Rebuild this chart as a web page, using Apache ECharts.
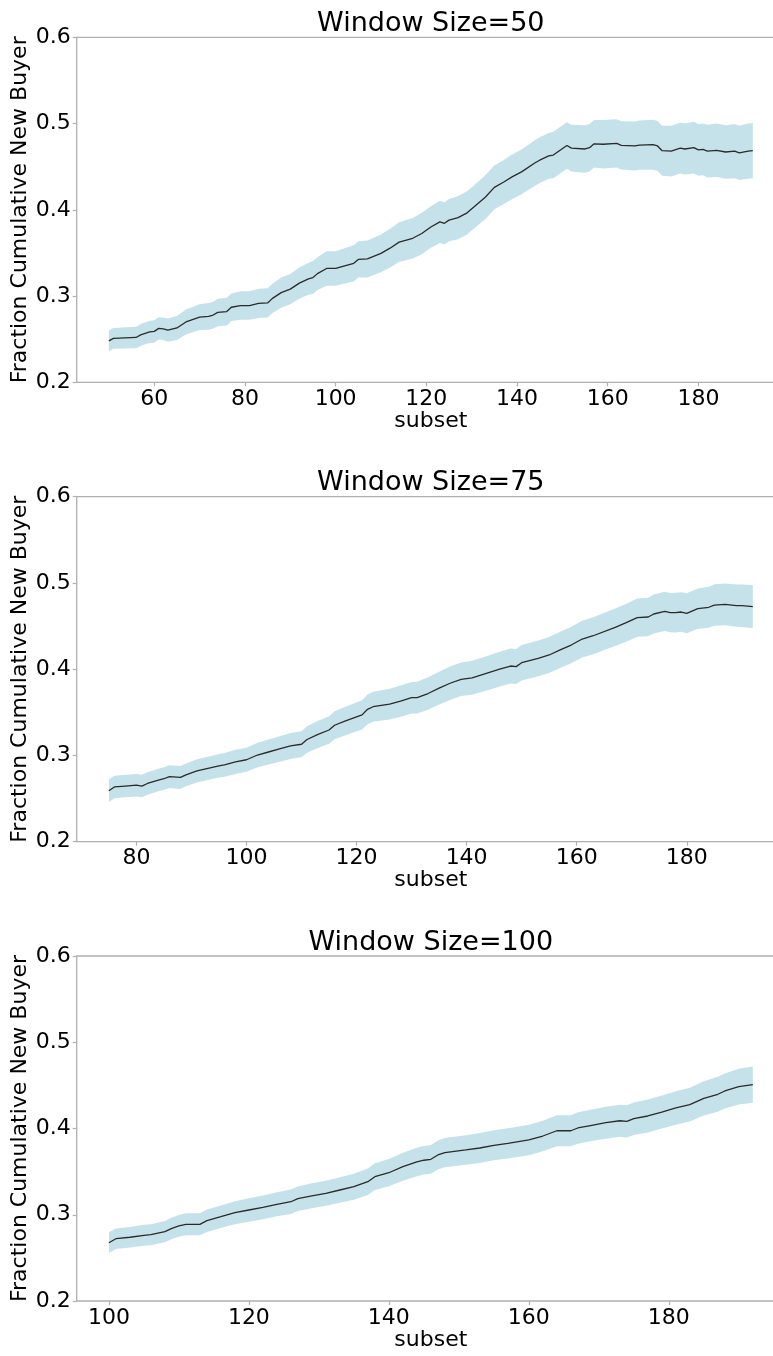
<!DOCTYPE html>
<html>
<head>
<meta charset="utf-8">
<script src="https://cdn.jsdelivr.net/npm/echarts@6/dist/echarts.min.js"></script>
<style>
  html, body { margin: 0; padding: 0; background: #fff; }
  #chart { width: 773px; height: 1356px; }
</style>
</head>
<body>
<div id="chart"></div>
<script>
// Window size 50
const subset50 = [50,51,56,57,59,60,61,62,63,65,67,70,72,73,74,76,77,79,81,83,85,86,88,90,92,94,95,96,98,100,102,104,105,107,110,112,114,117,119,121,123,124,125,127,129,131,133,135,137,139,141,144,145,147,148,151,152,155,156,157,159,162,163,166,167,170,171,172,174,176,177,179,180,181,182,184,186,188,189,191,192];
const mean50 = [0.248,0.251,0.252,0.255,0.2585,0.259,0.2625,0.262,0.2605,0.263,0.270,0.2755,0.2765,0.278,0.281,0.282,0.287,0.289,0.289,0.2915,0.292,0.297,0.304,0.308,0.315,0.320,0.3215,0.326,0.332,0.332,0.335,0.338,0.3425,0.343,0.3495,0.3555,0.3625,0.367,0.3725,0.380,0.386,0.3843,0.388,0.391,0.3965,0.4055,0.4145,0.426,0.432,0.4385,0.444,0.4545,0.4575,0.4625,0.4635,0.4745,0.4715,0.4705,0.472,0.4765,0.476,0.477,0.4748,0.474,0.475,0.4755,0.474,0.4685,0.468,0.4715,0.4705,0.472,0.4695,0.470,0.468,0.469,0.467,0.468,0.466,0.468,0.4685];
const ci50 = [0.012,0.012,0.0125,0.0125,0.013,0.013,0.013,0.013,0.0135,0.014,0.0145,0.015,0.0155,0.0155,0.016,0.016,0.016,0.0165,0.0165,0.017,0.017,0.017,0.0175,0.0175,0.018,0.0185,0.019,0.019,0.020,0.020,0.0205,0.021,0.021,0.0215,0.022,0.0225,0.023,0.0235,0.024,0.024,0.0245,0.0245,0.0245,0.025,0.025,0.025,0.0255,0.0255,0.0255,0.026,0.026,0.0265,0.0265,0.0265,0.027,0.027,0.027,0.0275,0.0275,0.0275,0.028,0.028,0.028,0.0285,0.0285,0.029,0.029,0.029,0.0295,0.0295,0.0295,0.030,0.030,0.030,0.0305,0.031,0.031,0.0315,0.0315,0.032,0.032];

// Window size 75
const subset75 = [75,76,78,80,81,82,84,85,86,88,89,91,93,95,96,98,100,102,104,106,108,110,111,113,115,116,118,121,122,123,126,128,130,131,133,135,137,139,141,144,146,148,149,150,153,155,157,159,161,163,167,169,171,173,174,176,177,178,179,180,182,184,185,187,189,190,192];
const mean75 = [0.259,0.2635,0.2645,0.2655,0.2645,0.2675,0.2715,0.273,0.2755,0.2745,0.2775,0.282,0.285,0.288,0.289,0.2925,0.295,0.3005,0.304,0.3075,0.311,0.313,0.3185,0.3245,0.3295,0.335,0.340,0.347,0.3535,0.3565,0.3595,0.363,0.367,0.367,0.3718,0.378,0.3837,0.3883,0.390,0.396,0.400,0.4037,0.403,0.4075,0.4126,0.4165,0.4223,0.428,0.435,0.4388,0.4486,0.4539,0.4597,0.4605,0.464,0.4671,0.4655,0.4655,0.4663,0.4648,0.4702,0.4718,0.4744,0.4752,0.4736,0.4736,0.4725];
const ci75 = [0.013,0.013,0.013,0.013,0.013,0.013,0.013,0.0132,0.0132,0.0133,0.0133,0.0135,0.0135,0.0137,0.0137,0.014,0.014,0.0143,0.0145,0.0148,0.015,0.0152,0.0155,0.0158,0.016,0.0163,0.0166,0.017,0.0172,0.0174,0.0178,0.018,0.0183,0.0185,0.0188,0.019,0.0193,0.0195,0.0197,0.020,0.0202,0.0203,0.0203,0.0205,0.0207,0.0208,0.021,0.0212,0.0213,0.0215,0.0218,0.022,0.0222,0.0223,0.0225,0.0227,0.0228,0.023,0.023,0.0232,0.0235,0.0237,0.024,0.0242,0.0245,0.0247,0.025];

// Window size 100
const subset100 = [100,101,103,105,106,108,109,110,111,113,114,116,118,120,122,124,126,127,129,131,133,135,137,138,140,142,144,145,146,147,148,151,153,155,157,160,162,164,166,167,169,171,173,174,175,177,179,181,183,185,187,188,190,192];
const mean100 = [0.2676,0.2722,0.2739,0.2762,0.2769,0.2804,0.2843,0.287,0.2889,0.2889,0.2931,0.2977,0.3024,0.3055,0.3086,0.3121,0.3151,0.3186,0.322,0.3249,0.3287,0.3325,0.3383,0.3441,0.3487,0.3557,0.3612,0.3632,0.3643,0.3693,0.372,0.3751,0.3774,0.3805,0.3828,0.3867,0.3913,0.3974,0.3974,0.4006,0.4037,0.4067,0.409,0.4083,0.4114,0.4145,0.4191,0.4238,0.4276,0.435,0.4397,0.4435,0.4485,0.4508];
const ci100 = [0.012,0.012,0.012,0.0122,0.0122,0.0124,0.0125,0.0126,0.0127,0.0128,0.013,0.0131,0.0133,0.0135,0.0137,0.0139,0.0141,0.0142,0.0144,0.0146,0.0148,0.015,0.0153,0.0155,0.0158,0.0162,0.0165,0.0166,0.0167,0.0168,0.0169,0.0171,0.0173,0.0174,0.0175,0.0177,0.0178,0.018,0.0181,0.0182,0.0183,0.0185,0.0186,0.0187,0.0188,0.019,0.0192,0.0194,0.0196,0.0199,0.0202,0.0204,0.0207,0.021];

const panelTitles = ['Window Size=50', 'Window Size=75', 'Window Size=100'];
const xTicks = [
  [60, 80, 100, 120, 140, 160, 180],
  [80, 100, 120, 140, 160, 180],
  [100, 120, 140, 160, 180]
];
const xRanges = [[42.9, 199.1], [69.15, 197.85], [95.4, 196.6]];

const panels = [
  { x: subset50, m: mean50, c: ci50 },
  { x: subset75, m: mean75, c: ci75 },
  { x: subset100, m: mean100, c: ci100 }
];

const FONT = 'DejaVu Sans';
const SPINE = '#b0b0b0';
const BAND = 'rgb(197,226,235)';
const gridTops = [37.3, 496.7, 956];
const gridH = 345;
const gridLeft = 76.7;
const gridW = 708.3;

const grids = [], xAxes = [], yAxes = [], titles = [], series = [];

// Confidence band: one polygon through the upper edge and back along the lower edge
function bandRenderer(rows) {
  return function (params, api) {
    if (params.dataIndex !== 0) return null;
    const upper = rows.map(r => api.coord([r[0], r[2]]));
    const lower = rows.map(r => api.coord([r[0], r[1]])).reverse();
    return {
      type: 'polygon',
      shape: { points: upper.concat(lower) },
      style: { fill: BAND, stroke: null },
      silent: true
    };
  };
}

panels.forEach((p, i) => {
  grids.push({
    left: gridLeft, top: gridTops[i], width: gridW, height: gridH,
    outerBoundsMode: 'none', containLabel: false,
    show: true, borderColor: SPINE, borderWidth: 1.3, backgroundColor: 'transparent'
  });
  xAxes.push({
    type: 'value', gridIndex: i, min: xRanges[i][0], max: xRanges[i][1],
    name: 'subset', nameLocation: 'middle', nameGap: 28, nameMoveOverlap: false,
    nameTextStyle: { fontFamily: FONT, fontSize: 22, color: '#000' },
    axisLine: { show: false },
    splitLine: { show: false },
    axisTick: { show: true, length: 4, customValues: xTicks[i], lineStyle: { color: SPINE, width: 1.2 } },
    axisLabel: { customValues: xTicks[i], margin: 6, fontFamily: FONT, fontSize: 22, color: '#000' }
  });
  yAxes.push({
    type: 'value', gridIndex: i, min: 0.2, max: 0.6, interval: 0.1,
    name: 'Fraction Cumulative New Buyer', nameLocation: 'middle', nameGap: 45, nameMoveOverlap: false,
    nameTextStyle: { fontFamily: FONT, fontSize: 22, color: '#000' },
    axisLine: { show: false },
    splitLine: { show: false },
    axisTick: { show: true, length: 4, lineStyle: { color: SPINE, width: 1.2 } },
    axisLabel: { margin: 6, fontFamily: FONT, fontSize: 22, color: '#000',
                 formatter: v => v.toFixed(1) }
  });
  titles.push({
    text: panelTitles[i], left: 430.8, top: gridTops[i] - 27, textAlign: 'center', padding: 0,
    textStyle: { fontFamily: FONT, fontSize: 27, fontWeight: 'normal', color: '#000' }
  });

  const rows = p.x.map((x, k) => [x, p.m[k] - p.c[k], p.m[k] + p.c[k]]);
  const mean = p.x.map((x, k) => [x, p.m[k]]);

  series.push({
    type: 'custom', xAxisIndex: i, yAxisIndex: i, data: rows,
    encode: { x: 0, y: [1, 2] },
    renderItem: bandRenderer(rows), silent: true, animation: false, z: 1
  });
  series.push({
    type: 'line', xAxisIndex: i, yAxisIndex: i, data: mean,
    symbol: 'none', lineStyle: { color: '#2a2a2a', width: 1.3 }, animation: false, z: 2
  });
});

const chart = echarts.init(document.getElementById('chart'), null, { renderer: 'canvas' });
chart.setOption({
  backgroundColor: '#fff',
  animation: false,
  title: titles,
  grid: grids,
  xAxis: xAxes,
  yAxis: yAxes,
  series: series
});
</script>
</body>
</html>
